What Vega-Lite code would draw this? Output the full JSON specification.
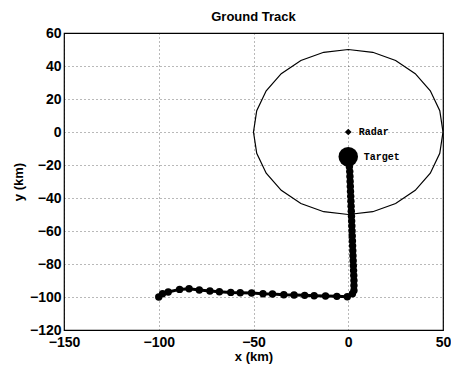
{
  "$schema": "https://vega.github.io/schema/vega-lite/v6.json",
  "width": 379,
  "height": 297,
  "autosize": "none",
  "padding": {"left": 64, "top": 33, "right": 8, "bottom": 40},
  "background": "white",
  "title": {"text": "Ground Track", "font": "Liberation Sans", "fontSize": 13, "fontWeight": "bold", "color": "black", "offset": 2},
  "config": {
    "view": {"stroke": "black", "strokeWidth": 1.2},
    "axis": {
      "domain": false, "ticks": false, "grid": true, "gridColor": "black", "gridOpacity": 0.55, "gridDash": [1, 3], "gridWidth": 1,
      "labelOverlap": false, "labelFlush": false, "labelBound": false,
      "labelFont": "Liberation Sans", "labelFontSize": 14, "labelFontWeight": "bold", "labelColor": "black",
      "titleFont": "Liberation Sans", "titleFontSize": 13, "titleFontWeight": "bold", "titleColor": "black"
    }
  },
  "datasets": {
    "circle": [
      {"i": 0, "x": 50, "y": 0}, {"i": 1, "x": 48.3, "y": 12.94}, {"i": 2, "x": 43.3, "y": 25}, {"i": 3, "x": 35.36, "y": 35.36},
      {"i": 4, "x": 25, "y": 43.3}, {"i": 5, "x": 12.94, "y": 48.3}, {"i": 6, "x": 0, "y": 50}, {"i": 7, "x": -12.94, "y": 48.3},
      {"i": 8, "x": -25, "y": 43.3}, {"i": 9, "x": -35.36, "y": 35.36}, {"i": 10, "x": -43.3, "y": 25}, {"i": 11, "x": -48.3, "y": 12.94},
      {"i": 12, "x": -50, "y": 0}, {"i": 13, "x": -48.3, "y": -12.94}, {"i": 14, "x": -43.3, "y": -25}, {"i": 15, "x": -35.36, "y": -35.36},
      {"i": 16, "x": -25, "y": -43.3}, {"i": 17, "x": -12.94, "y": -48.3}, {"i": 18, "x": 0, "y": -50}, {"i": 19, "x": 12.94, "y": -48.3},
      {"i": 20, "x": 25, "y": -43.3}, {"i": 21, "x": 35.36, "y": -35.36}, {"i": 22, "x": 43.3, "y": -25}, {"i": 23, "x": 48.3, "y": -12.94},
      {"i": 24, "x": 50, "y": 0}
    ],
    "track": [
      {"i": 0, "x": -100, "y": -100}, {"i": 1, "x": -98, "y": -98}, {"i": 2, "x": -95, "y": -97}, {"i": 3, "x": -89, "y": -95.4},
      {"i": 4, "x": -84, "y": -95}, {"i": 5, "x": -78.6, "y": -95.8}, {"i": 6, "x": -73, "y": -96.4}, {"i": 7, "x": -68, "y": -96.8},
      {"i": 8, "x": -62, "y": -97.2}, {"i": 9, "x": -57, "y": -97.4}, {"i": 10, "x": -51, "y": -97.6}, {"i": 11, "x": -45, "y": -98},
      {"i": 12, "x": -40, "y": -98.2}, {"i": 13, "x": -34, "y": -98.6}, {"i": 14, "x": -28.6, "y": -98.8}, {"i": 15, "x": -23, "y": -99},
      {"i": 16, "x": -18, "y": -99.2}, {"i": 17, "x": -12, "y": -99.4}, {"i": 18, "x": -6, "y": -99.6}, {"i": 19, "x": -0.5, "y": -99.8},
      {"i": 20, "x": 2.2, "y": -98}, {"i": 21, "x": 3, "y": -96}, {"i": 22, "x": 3, "y": -93}, {"i": 23, "x": 3, "y": -90},
      {"i": 24, "x": 2.9, "y": -87}, {"i": 25, "x": 2.8, "y": -84}, {"i": 26, "x": 2.7, "y": -81}, {"i": 27, "x": 2.6, "y": -78},
      {"i": 28, "x": 2.5, "y": -75}, {"i": 29, "x": 2.4, "y": -72}, {"i": 30, "x": 2.3, "y": -69}, {"i": 31, "x": 2.2, "y": -66},
      {"i": 32, "x": 2.1, "y": -63}, {"i": 33, "x": 2, "y": -60}, {"i": 34, "x": 1.9, "y": -57}, {"i": 35, "x": 1.8, "y": -54},
      {"i": 36, "x": 1.7, "y": -51}, {"i": 37, "x": 1.6, "y": -48}, {"i": 38, "x": 1.5, "y": -45}, {"i": 39, "x": 1.4, "y": -42},
      {"i": 40, "x": 1.3, "y": -39}, {"i": 41, "x": 1.2, "y": -36}, {"i": 42, "x": 1.1, "y": -33}, {"i": 43, "x": 1, "y": -30},
      {"i": 44, "x": 0.9, "y": -27}, {"i": 45, "x": 0.8, "y": -24}, {"i": 46, "x": 0.6, "y": -21}, {"i": 47, "x": 0, "y": -15}
    ],
    "markers": [
      {"name": "Radar", "x": 0, "y": 0, "lx": 5.6},
      {"name": "Target", "x": 0, "y": -15, "lx": 8.2}
    ]
  },
  "encoding": {
    "x": {"field": "x", "type": "quantitative", "scale": {"domain": [-150, 50], "nice": false}, "axis": {"values": [-150, -100, -50, 0, 50], "title": "x (km)", "labelPadding": 5, "titlePadding": 1}},
    "y": {"field": "y", "type": "quantitative", "scale": {"domain": [-120, 60], "nice": false}, "axis": {"values": [-120, -100, -80, -60, -40, -20, 0, 20, 40, 60], "tickCount": 10, "title": "y (km)", "labelPadding": 3, "titlePadding": 4}}
  },
  "layer": [
    {
      "data": {"name": "circle"},
      "mark": {"type": "line", "color": "black", "strokeWidth": 1.2, "clip": true},
      "encoding": {"order": {"field": "i", "type": "quantitative"}}
    },
    {
      "data": {"name": "track"},
      "mark": {"type": "line", "color": "black", "strokeWidth": 3},
      "encoding": {"order": {"field": "i", "type": "quantitative"}}
    },
    {
      "data": {"name": "track"},
      "mark": {"type": "point", "shape": "circle", "filled": true, "color": "black", "opacity": 1, "size": 55},
      "encoding": {}
    },
    {
      "data": {"name": "markers"},
      "transform": [{"filter": "datum.name === 'Target'"}],
      "mark": {"type": "point", "shape": "circle", "filled": true, "color": "black", "opacity": 1, "size": 380},
      "encoding": {}
    },
    {
      "data": {"name": "markers"},
      "transform": [{"filter": "datum.name === 'Radar'"}],
      "mark": {"type": "point", "shape": "diamond", "filled": true, "color": "black", "opacity": 1, "size": 45},
      "encoding": {}
    },
    {
      "data": {"name": "markers"},
      "mark": {"type": "text", "align": "left", "baseline": "middle", "font": "Liberation Mono", "fontWeight": "bold", "fontSize": 10, "color": "black"},
      "encoding": {
        "x": {"field": "lx", "type": "quantitative"},
        "text": {"field": "name"}
      }
    }
  ]
}
